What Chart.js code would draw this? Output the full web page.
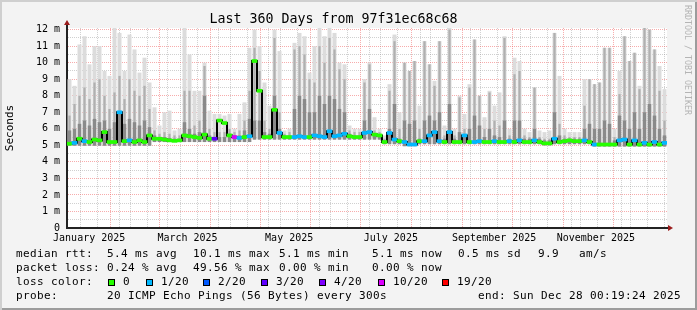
<!DOCTYPE html>
<html>
<head>
<meta charset="utf-8">
<script src="https://cdn.jsdelivr.net/npm/chart.js@4.4.1/dist/chart.umd.min.js"></script>
<style>
  html, body { margin: 0; padding: 0; background: #f3f3f3; }
  #frame {
    position: relative; width: 697px; height: 310px; background: #f3f3f3;
    box-shadow: inset 2px 2px 0 #cfcfcf, inset -2px -2px 0 #9c9c9c;
  }
  #chart { position: absolute; left: 0; top: 0; display: block; }
  .t {
    position: absolute; white-space: pre; color: #000;
    font-family: 'DejaVu Sans Mono', monospace; font-size: 11px;
    letter-spacing: 0.38px; line-height: 13px;
  }
  .box { position: absolute; top: 279px; width: 5px; height: 5px; border: 1px solid #000; }
  #credit {
    position: absolute; left: 683px; top: 5px; writing-mode: vertical-rl;
    font-family: 'DejaVu Sans Mono', monospace; font-size: 8.3px; line-height: 9px; color: #b4b4b4;
  }
</style>
</head>
<body>
<div id="frame">
  <canvas id="chart" width="697" height="310"></canvas>
  <div id="credit">RRDTOOL / TOBI OETIKER</div>

  <div class="t" style="left:16px;top:247px">median rtt:</div>
  <div class="t" style="left:107px;top:247px">5.4 ms avg</div>
  <div class="t" style="left:193px;top:247px">10.1 ms max</div>
  <div class="t" style="left:279px;top:247px">5.1 ms min</div>
  <div class="t" style="left:372px;top:247px">5.1 ms now</div>
  <div class="t" style="left:458px;top:247px">0.5 ms sd</div>
  <div class="t" style="left:538px;top:247px">9.9</div>
  <div class="t" style="left:579px;top:247px">am/s</div>

  <div class="t" style="left:16px;top:261px">packet loss:</div>
  <div class="t" style="left:107px;top:261px">0.24 % avg</div>
  <div class="t" style="left:193px;top:261px">49.56 % max</div>
  <div class="t" style="left:279px;top:261px">0.00 % min</div>
  <div class="t" style="left:372px;top:261px">0.00 % now</div>

  <div class="t" style="left:16px;top:275px">loss color:</div>
  <div class="box" style="left:108px;background:#26ff00"></div>
  <div class="t" style="left:123px;top:275px">0</div>
  <div class="box" style="left:146px;background:#00b8ff"></div>
  <div class="t" style="left:161px;top:275px">1/20</div>
  <div class="box" style="left:203px;background:#0059ff"></div>
  <div class="t" style="left:218px;top:275px">2/20</div>
  <div class="box" style="left:261px;background:#5e00ff"></div>
  <div class="t" style="left:276px;top:275px">3/20</div>
  <div class="box" style="left:319px;background:#7e00ff"></div>
  <div class="t" style="left:334px;top:275px">4/20</div>
  <div class="box" style="left:378px;background:#dd00ff"></div>
  <div class="t" style="left:393px;top:275px">10/20</div>
  <div class="box" style="left:442px;background:#ff0000"></div>
  <div class="t" style="left:457px;top:275px">19/20</div>

  <div class="t" style="left:16px;top:289px">probe:</div>
  <div class="t" style="left:107px;top:289px">20 ICMP Echo Pings (56 Bytes) every 300s</div>
  <div class="t" style="left:478px;top:289px">end: Sun Dec 28 00:19:24 2025</div>
</div>

<script>
// time axis in day-of-year 2025 (0 = Jan 1), 360 days ending Dec 28
const startDay = 1.7;
const endDay = 361.7;
const bucketDays = 3;

const monthStartDays = [31, 59, 90, 120, 151, 181, 212, 243, 273, 304, 334];
const tenDayGridDays = [5, 15, 25, 35, 45, 55, 65, 75, 85, 95, 105, 115, 125, 135, 145, 155, 165, 175,
  185, 195, 205, 215, 225, 235, 245, 255, 265, 275, 285, 295, 305, 315, 325, 335, 345, 355];
const monthLabelDays = [15, 74, 135, 196, 258, 319];
const monthLabels = ['January 2025', 'March 2025', 'May 2025', 'July 2025', 'September 2025', 'November 2025'];
const yGridMs = [0, 0.5, 1, 1.5, 2, 2.5, 3, 3.5, 4, 4.5, 5, 5.5, 6, 6.5, 7, 7.5, 8, 8.5, 9, 9.5,
  10, 10.5, 11, 11.5, 12];

// median rtt per 3-day bucket (ms)
const medianMs = [
  5.1, 5.15, 5.4, 5.25, 5.2, 5.35, 5.3, 5.8, 5.2, 5.2,
  7.0, 5.25, 5.3, 5.2, 5.3, 5.2, 5.6, 5.4, 5.4, 5.35,
  5.3, 5.27, 5.3, 5.6, 5.55, 5.5, 5.45, 5.65, 5.4, 5.4,
  6.5, 6.35, 5.6, 5.5, 5.45, 5.5, 5.55, 10.1, 8.3, 5.5,
  5.5, 7.15, 5.75, 5.5, 5.5, 5.5, 5.55, 5.5, 5.5, 5.6,
  5.55, 5.5, 5.85, 5.55, 5.6, 5.7, 5.55, 5.5, 5.5, 5.75,
  5.8, 5.65, 5.6, 5.2, 5.75, 5.35, 5.25, 5.2, 5.05, 5.05,
  5.25, 5.25, 5.6, 5.8, 5.25, 5.2, 5.8, 5.2, 5.2, 5.6,
  5.2, 5.2, 5.25, 5.2, 5.2, 5.25, 5.2, 5.2, 5.25, 5.2,
  5.3, 5.2, 5.2, 5.3, 5.2, 5.12, 5.12, 5.4, 5.2, 5.25,
  5.3, 5.25, 5.25, 5.3, 5.2, 5.05, 5.05, 5.05, 5.05, 5.05,
  5.3, 5.35, 5.05, 5.3, 5.05, 5.15, 5.05, 5.2, 5.05, 5.15
];
// lost pings out of 20 per bucket
const lossCount = [
  0, 1, 0, 1, 0, 0, 0, 0, 0, 0,
  1, 0, 1, 0, 0, 0, 0, 0, 0, 0,
  0, 0, 0, 0, 0, 0, 0, 0, 0, 3,
  0, 0, 0, 10, 1, 0, 1, 0, 0, 0,
  0, 0, 1, 0, 0, 1, 1, 1, 0, 1,
  1, 1, 1, 1, 1, 1, 0, 0, 0, 1,
  1, 0, 0, 0, 1, 1, 0, 1, 1, 1,
  0, 1, 1, 1, 1, 0, 1, 0, 0, 1,
  0, 1, 1, 0, 0, 1, 0, 0, 1, 0,
  1, 0, 0, 1, 0, 0, 0, 1, 0, 0,
  0, 0, 0, 1, 0, 1, 0, 0, 0, 0,
  1, 1, 0, 1, 0, 1, 0, 1, 0, 1
];
// smoke: fastest ping, inner band top, upper band top, slowest ping (ms)
const minMs = [
  4.98, 4.98, 4.98, 4.98, 4.98, 4.98, 4.98, 4.98, 4.98, 4.98,
  4.98, 4.98, 4.98, 4.98, 4.98, 4.98, 4.98, 5.2, 5.2, 5.2,
  5.2, 5.2, 5.2, 5.2, 5.2, 5.2, 5.2, 5.2, 5.2, 5.2,
  5.2, 5.2, 5.2, 5.2, 5.2, 5.2, 5.2, 5.35, 5.35, 5.35,
  5.35, 5.35, 5.35, 5.35, 5.35, 5.35, 5.35, 5.35, 5.35, 5.35,
  5.35, 5.35, 5.35, 5.35, 5.35, 5.35, 5.35, 5.35, 5.35, 5.35,
  5.35, 5.35, 5.35, 5.07, 5.07, 5.07, 5.07, 4.95, 4.95, 4.95,
  5.07, 5.07, 5.07, 5.07, 5.07, 5.07, 5.07, 5.07, 5.07, 5.07,
  5.07, 5.07, 5.07, 5.07, 5.07, 5.07, 5.07, 5.07, 5.07, 5.07,
  5.07, 5.07, 5.07, 5.07, 5.07, 5.0, 5.0, 5.07, 5.07, 5.07,
  5.07, 5.07, 5.07, 5.07, 5.07, 4.93, 4.93, 4.93, 4.93, 4.93,
  4.93, 4.93, 4.93, 4.93, 4.93, 4.93, 4.93, 4.93, 4.93, 4.93
];
const smokeInnerMs = [
  5.9, 6.0, 6.3, 6.5, 6.2, 6.6, 6.4, 6.5, 6.0, 6.4,
  7.0, 6.3, 6.6, 6.4, 6.2, 6.5, 6.1, 5.6, 5.5, 5.5,
  5.45, 5.4, 5.4, 6.4, 6.0, 5.7, 5.8, 8.0, 5.6, 5.5,
  5.5, 5.5, 5.7, 5.6, 5.6, 5.9, 6.6, 6.5, 6.5, 5.8,
  5.7, 8.0, 6.0, 5.6, 5.6, 7.2, 8.0, 7.8, 7.0, 7.0,
  8.0, 7.5, 8.0, 7.8, 7.2, 7.0, 5.7, 5.6, 5.6, 6.5,
  7.2, 5.7, 5.6, 5.3, 6.0, 7.5, 5.4, 6.5, 6.3, 6.5,
  5.4, 6.5, 6.8, 6.5, 7.0, 5.4, 7.5, 5.4, 5.8, 5.6,
  6.0, 6.8, 6.2, 5.5, 6.0, 5.6, 5.5, 6.5, 5.4, 6.5,
  6.5, 5.4, 5.4, 6.0, 5.4, 5.3, 5.3, 7.0, 5.6, 5.4,
  5.4, 5.4, 5.4, 6.0, 6.3, 6.0, 6.0, 6.5, 6.3, 5.3,
  6.8, 6.5, 6.0, 7.0, 6.0, 7.0, 7.5, 6.8, 6.0, 5.6
];
const smokeUpperMs = [
  6.8, 7.5, 8.0, 8.5, 7.8, 8.8, 9.0, 8.0, 7.2, 8.2,
  9.2, 7.8, 9.0, 8.3, 8.0, 8.6, 7.2, 5.9, 5.7, 5.8,
  5.7, 5.6, 5.6, 8.3, 8.3, 6.2, 6.5, 9.8, 6.0, 5.8,
  5.8, 5.8, 6.0, 5.8, 5.9, 6.5, 8.3, 10.9, 9.5, 6.5,
  6.0, 11.5, 7.0, 5.7, 5.8, 10.8, 11.0, 10.5, 9.0, 8.8,
  11.0, 10.0, 11.5, 10.8, 9.6, 9.0, 5.9, 5.8, 5.8, 8.8,
  9.9, 5.9, 5.8, 5.4, 8.3, 11.3, 6.0, 10.0, 9.5, 10.1,
  6.0, 11.3, 9.9, 8.6, 11.3, 5.6, 12.0, 5.6, 7.9, 6.0,
  8.5, 11.4, 8.0, 6.0, 8.2, 6.5, 6.2, 11.5, 5.6, 9.3,
  9.5, 5.6, 5.5, 8.5, 5.5, 5.4, 5.4, 11.8, 6.3, 5.6,
  5.5, 5.5, 5.5, 7.4, 9.0, 8.7, 8.8, 10.9, 10.9, 5.5,
  8.1, 11.6, 10.1, 10.6, 8.4, 12.1, 12.0, 10.8, 8.3, 6.5
];
const smokeMaxMs = [
  9.0, 8.6, 11.1, 11.6, 9.9, 11.0, 11.0, 9.5, 9.2, 12.1,
  11.8, 9.5, 11.7, 10.8, 9.4, 10.3, 8.8, 7.3, 6.2, 7.0,
  7.1, 5.9, 6.0, 12.1, 10.5, 8.3, 8.3, 10.0, 7.1, 6.9,
  6.9, 6.8, 6.9, 6.0, 6.9, 7.6, 10.9, 12.0, 11.0, 8.8,
  7.4, 12.0, 10.7, 5.9, 6.0, 11.2, 11.8, 11.6, 9.4, 11.0,
  12.1, 11.6, 12.1, 11.8, 10.0, 9.9, 6.2, 6.0, 6.0, 9.0,
  10.0, 6.7, 6.0, 5.6, 8.7, 11.7, 7.0, 10.0, 9.5, 10.1,
  7.4, 11.3, 9.9, 8.9, 11.3, 6.2, 12.1, 6.0, 8.0, 6.9,
  8.7, 11.4, 8.0, 6.7, 8.3, 7.4, 8.2, 11.6, 6.0, 10.3,
  10.1, 6.0, 5.8, 8.5, 5.9, 5.8, 5.9, 11.8, 9.2, 6.0,
  5.8, 5.8, 5.8, 9.0, 9.0, 8.7, 8.8, 10.9, 10.9, 6.0,
  9.5, 11.6, 10.1, 10.6, 8.6, 12.1, 12.0, 10.8, 9.8, 8.4
];

const lossColors = { 0: '#26ff00', 1: '#00b8ff', 2: '#0059ff', 3: '#5e00ff', 4: '#7e00ff', 10: '#dd00ff', 19: '#ff0000' };

const days = medianMs.map((_, i) => startDay + bucketDays * (i + 0.5));
const MONO = "'DejaVu Sans Mono', monospace";
const gridGray = 'rgba(150,150,150,0.45)';
const gridRed = 'rgba(240,90,90,0.5)';
const axisColor = '#222';

function smoke(label, tops, color, order, width) {
  return {
    type: 'bar', label, order, grouped: false,
    barPercentage: width, categoryPercentage: 1, borderWidth: 0,
    backgroundColor: color,
    data: days.map((d, i) => ({ x: d, y: [minMs[i], tops[i]] }))
  };
}

// white plot canvas + rrdtool style axis arrows
const rrdFrame = {
  id: 'rrdFrame',
  beforeDraw(chart) {
    const { ctx, chartArea: a } = chart;
    ctx.save();
    ctx.fillStyle = '#fff';
    ctx.fillRect(a.left, a.top, a.right - a.left, a.bottom - a.top);
    ctx.restore();
  },
  afterDraw(chart) {
    const { ctx, chartArea: a } = chart;
    ctx.save();
    ctx.strokeStyle = axisColor;
    ctx.lineWidth = 2;
    ctx.beginPath();
    ctx.moveTo(a.left, a.top);
    ctx.lineTo(a.left, a.top - 4);
    ctx.moveTo(a.right, a.bottom);
    ctx.lineTo(a.right + 2, a.bottom);
    ctx.stroke();
    ctx.fillStyle = '#9b1c1c';
    ctx.beginPath();
    ctx.moveTo(a.left - 3, a.top - 3);
    ctx.lineTo(a.left + 3, a.top - 3);
    ctx.lineTo(a.left, a.top - 8);
    ctx.fill();
    ctx.beginPath();
    ctx.moveTo(a.right + 1, a.bottom - 3);
    ctx.lineTo(a.right + 1, a.bottom + 3);
    ctx.lineTo(a.right + 6, a.bottom);
    ctx.fill();
    ctx.restore();
  }
};

new Chart(document.getElementById('chart'), {
  type: 'bar',
  data: {
    datasets: [
      smoke('slowest', smokeMaxMs, '#dcdcdc', 5, 0.8),
      smoke('upper', smokeUpperMs, '#b0b0b0', 4, 0.45),
      smoke('inner', smokeInnerMs, '#8a8a8a', 3, 0.7),
      {
        type: 'line', label: 'median rtt', order: 2,
        data: days.map((d, i) => ({ x: d, y: medianMs[i] })),
        borderColor: '#000', borderWidth: 2, pointRadius: 0, stepped: 'middle', fill: false
      },
      {
        type: 'bar', label: 'loss color', order: 1, grouped: false,
        barPercentage: 1, categoryPercentage: 1, borderWidth: 0,
        backgroundColor: lossCount.map(n => lossColors[n]),
        data: days.map((d, i) => ({ x: d, y: [medianMs[i] - 0.09, medianMs[i] + 0.09] }))
      }
    ]
  },
  options: {
    responsive: false,
    animation: false,
    events: [],
    layout: { padding: { left: 0, right: 30, top: 0, bottom: 0 } },
    plugins: {
      legend: { display: false },
      tooltip: { enabled: false },
      title: {
        display: true,
        text: 'Last 360 Days from 97f31ec68c68',
        color: '#000',
        font: { family: MONO, size: 13.3, weight: 'normal' },
        padding: { top: 12, bottom: 0 }
      }
    },
    scales: {
      x: {
        type: 'linear', position: 'bottom', weight: 0, z: 2,
        min: startDay, max: endDay, offset: false,
        afterBuildTicks: s => { s.ticks = monthLabelDays.map(v => ({ value: v })); },
        afterFit: s => { s.height = 82; },
        ticks: {
          autoSkip: false, maxRotation: 0, padding: 4, color: '#000',
          font: { family: MONO, size: 10 },
          callback: (v, i) => monthLabels[i]
        },
        grid: { display: false, drawTicks: false },
        border: { display: true, color: axisColor, width: 2 }
      },
      xg: {
        type: 'linear', position: 'bottom', weight: 1, z: 1,
        min: startDay, max: endDay, offset: false,
        afterBuildTicks: s => {
          s.ticks = tenDayGridDays.concat(monthStartDays).sort((a, b) => a - b).map(v => ({ value: v }));
        },
        afterFit: s => { s.height = 0; },
        ticks: { display: false },
        grid: {
          drawTicks: false, lineWidth: 1,
          color: c => (c.tick && monthStartDays.includes(c.tick.value)) ? gridRed : gridGray
        },
        border: { display: false, dash: [1, 1] }
      },
      y: {
        type: 'linear', position: 'left', z: 1,
        min: 0, max: 12.1,
        afterBuildTicks: s => { s.ticks = yGridMs.map(v => ({ value: v })); },
        afterFit: s => { s.width = 67; },
        ticks: {
          autoSkip: false, padding: 7, color: '#000',
          font: { family: MONO, size: 10 },
          callback: v => v === 0 ? '0' : (Number.isInteger(v) ? v + ' m' : '')
        },
        grid: {
          drawTicks: false, lineWidth: 1,
          color: c => (c.tick && Number.isInteger(c.tick.value)) ? gridRed : gridGray
        },
        border: { display: true, color: axisColor, width: 2, dash: [1, 1] },
        title: {
          display: true, text: 'Seconds', color: '#000',
          font: { family: MONO, size: 11 },
          padding: { top: 4, bottom: 0 }
        }
      }
    }
  },
  plugins: [rrdFrame]
});
</script>
</body>
</html>
